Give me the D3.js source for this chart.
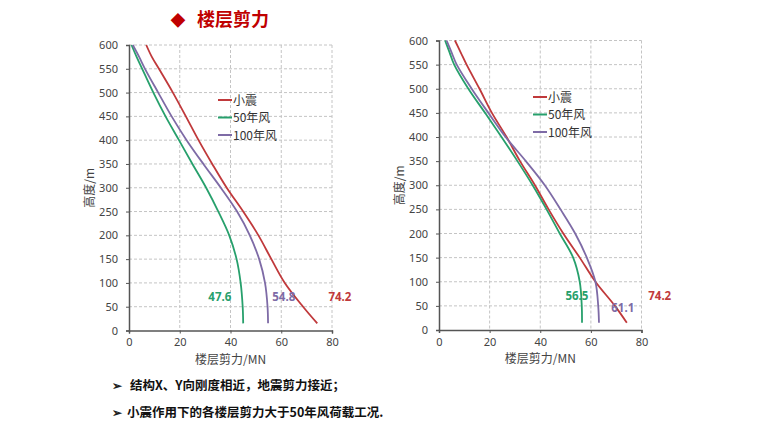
<!DOCTYPE html>
<html>
<head>
<meta charset="utf-8">
<script src="https://cdn.jsdelivr.net/npm/d3@7"></script>
<style>
  body { margin: 0; background: #fff; }
  svg text { font-family: "Noto Sans CJK SC", "Noto Sans", sans-serif; }
</style>
</head>
<body>
<div id="chart"></div>
<script>
// storey heights (m) where shear is read, top to bottom
var heights = [600, 575, 550, 500, 450, 400, 350, 300, 250, 200, 150, 100, 50, 15];

// X direction (left chart), storey shear in MN
var leftQuake  = [6.8, 9.0, 11.8, 17.3, 22.4, 27.4, 32.8, 38.5, 45.0, 51.0, 56.1, 61.4, 68.6, 74.2];
var leftWind50 = [1.0, 3.0, 5.2, 9.6, 14.4, 19.7, 25.0, 30.4, 35.2, 39.5, 42.4, 44.0, 44.8, 45.0];
var leftWind100 = [1.5, 4.0, 6.3, 11.5, 16.8, 22.7, 29.3, 36.2, 42.6, 47.6, 51.3, 53.6, 54.6, 54.8];

// Y direction (right chart)
var rightQuake  = [6.3, 8.6, 10.9, 16.0, 20.9, 26.7, 32.0, 37.9, 43.3, 49.1, 55.6, 61.8, 69.5, 74.2];
var rightWind50 = [2.4, 4.2, 6.0, 11.6, 18.2, 24.7, 31.0, 37.0, 42.5, 47.7, 53.0, 55.6, 56.4, 56.5];
var rightWind100 = [3.0, 5.0, 7.0, 12.9, 19.5, 26.3, 34.3, 41.8, 48.0, 53.8, 58.4, 61.8, 62.9, 63.2];

var seriesNames = ["小震", "50年风", "100年风"];
var xTicks = [0, 20, 40, 60, 80];
var yTicks = [0, 50, 100, 150, 200, 250, 300, 350, 400, 450, 500, 550, 600];

// base shear labels: text, shear, height (placed through the scales)
var leftLabels = [["47.6", 35.8, 70], ["54.8", 61.0, 70], ["74.2", 83.1, 70]];
var rightLabels = [["56.5", 54.5, 70], ["61.1", 72.6, 46], ["74.2", 87.2, 70]];

var colors = ["#c0393b", "#27a06c", "#7e6ba6"];

var width = 760, height = 428;

var svg = d3.select("#chart")
    .append("svg")
    .attr("width", width)
    .attr("height", height);

// title
svg.append("text")
    .attr("x", 178).attr("y", 26)
    .attr("text-anchor", "middle")
    .style("font-size", "15px")
    .attr("fill", "#c00000")
    .text("◆");
svg.append("text")
    .attr("x", 197).attr("y", 26)
    .style("font-size", "18px")
    .style("font-weight", "bold")
    .attr("fill", "#c00000")
    .text("楼层剪力");

function drawChart(box, series, labels, legendPos) {
    var x = d3.scaleLinear().domain([0, 80]).range([box.left, box.right]);
    var y = d3.scaleLinear().domain([0, 600]).range([box.bottom, box.top]);
    var g = svg.append("g");

    // dashed grid
    g.selectAll(".vg").data(xTicks.slice(1)).enter().append("line")
        .attr("x1", function(d) { return x(d); }).attr("x2", function(d) { return x(d); })
        .attr("y1", box.top).attr("y2", box.bottom)
        .attr("stroke", "#c4c4c4").attr("stroke-dasharray", "3,2");
    g.selectAll(".hg").data(yTicks.slice(1)).enter().append("line")
        .attr("y1", function(d) { return y(d); }).attr("y2", function(d) { return y(d); })
        .attr("x1", box.left).attr("x2", box.right)
        .attr("stroke", "#c4c4c4").attr("stroke-dasharray", "3,2");

    // axes
    var xAxis = g.append("g")
        .attr("transform", "translate(0," + box.bottom + ")")
        .call(d3.axisBottom(x).tickValues(xTicks).tickSize(3).tickPadding(5));
    var yAxis = g.append("g")
        .attr("transform", "translate(" + box.left + ",0)")
        .call(d3.axisLeft(y).tickValues(yTicks).tickSize(3).tickPadding(8));
    [xAxis, yAxis].forEach(function(a) {
        a.select(".domain").attr("stroke", "#555").attr("stroke-width", 1.5);
        a.selectAll(".tick line").attr("stroke", "#555");
        a.selectAll("text").style("font-size", "11px").style("font-family", "Noto Sans, sans-serif").attr("fill", "#444");
    });

    // axis titles
    g.append("text")
        .attr("x", (box.left + box.right) / 2).attr("y", box.bottom + 33)
        .attr("text-anchor", "middle")
        .style("font-size", "12px").attr("fill", "#444")
        .text("楼层剪力/MN");
    g.append("text")
        .attr("transform", "translate(" + (box.left - 35) + "," + (box.top + box.bottom) / 2 + ") rotate(-90)")
        .attr("text-anchor", "middle")
        .style("font-size", "12px").attr("fill", "#444")
        .text("高度/m");

    // curves
    var line = d3.line()
        .x(function(d) { return x(d[0]); })
        .y(function(d) { return y(d[1]); })
        .curve(d3.curveCatmullRom);
    series.forEach(function(vals, i) {
        g.append("path")
            .datum(vals.map(function(v, k) { return [v, heights[k]]; }))
            .attr("d", line)
            .attr("fill", "none")
            .attr("stroke", colors[i])
            .attr("stroke-width", 1.8);
    });

    // legend
    seriesNames.forEach(function(name, i) {
        var ly = legendPos[1] + i * 17.5;
        g.append("line")
            .attr("x1", legendPos[0]).attr("x2", legendPos[0] + 14)
            .attr("y1", ly).attr("y2", ly)
            .attr("stroke", colors[i]).attr("stroke-width", 2);
        g.append("text")
            .attr("x", legendPos[0] + 15).attr("y", ly + 4.5)
            .style("font-size", "12px").attr("fill", "#333")
            .text(name);
    });

    // base shear labels
    labels.forEach(function(l, i) {
        g.append("text")
            .attr("x", x(l[1])).attr("y", y(l[2]) + 4)
            .attr("text-anchor", "middle")
            .style("font-size", "11.5px").style("font-weight", "bold")
            .style("font-family", "Noto Sans, sans-serif")
            .attr("fill", colors[[1, 2, 0][i]])
            .text(l[0]);
    });
}

drawChart({ left: 129, right: 332, top: 45, bottom: 330.5 },
    [leftQuake, leftWind50, leftWind100], leftLabels, [218, 100]);
drawChart({ left: 439, right: 641.5, top: 40.5, bottom: 330 },
    [rightQuake, rightWind50, rightWind100], rightLabels, [533, 97]);

// bottom notes
var notes = [
    ["结构X、Y向刚度相近，地震剪力接近；", 130, 390],
    ["小震作用下的各楼层剪力大于50年风荷载工况.", 127, 417]
];
notes.forEach(function(n) {
    svg.append("text")
        .attr("x", 112).attr("y", n[2])
        .style("font-size", "12px").style("font-weight", "bold").attr("fill", "#222")
        .text("➢");
    svg.append("text")
        .attr("x", n[1]).attr("y", n[2])
        .style("font-size", "12.5px").style("font-weight", "bold").attr("fill", "#111")
        .text(n[0]);
});
</script>
</body>
</html>
